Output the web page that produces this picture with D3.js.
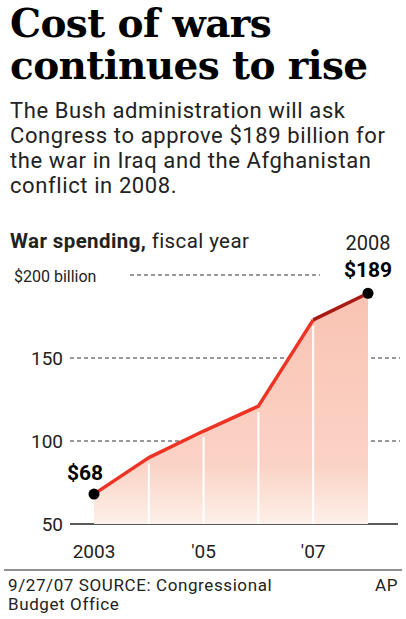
<!DOCTYPE html>
<html><head><meta charset="utf-8">
<script src="https://cdn.jsdelivr.net/npm/d3@7"></script>
<style>body{margin:0;background:#fff}</style>
</head><body>
<svg id="chart" width="406" height="619"></svg>
<script>
const years = [2003, 2004, 2005, 2006, 2007, 2008];
const spending = [68, 90, 106, 121, 173, 189];
const yTicks = [50, 100, 150, 200];
const xLabels = {2003: "2003", 2005: "'05", 2007: "'07"};

const svg = d3.select("#chart");
const x = d3.scaleLinear().domain([2003, 2008]).range([94, 368]);
const y = d3.scaleLinear().domain([50, 200]).range([524, 275]);
const data = years.map((yr, i) => ({yr, v: spending[i]}));

// title + intro
const sans = "Roboto, 'Noto Sans', sans-serif";
svg.selectAll(".title").data(["Cost of wars", "continues to rise"]).enter().append("text")
  .attr("x", 10).attr("y", (d, i) => 37 + i * 42)
  .attr("font-family", "'DejaVu Serif', serif").attr("font-weight", "bold")
  .attr("font-size", 39).attr("letter-spacing", -0.6).text(d => d);
svg.selectAll(".intro").data(["The Bush administration will ask", "Congress to approve $189 billion for", "the war in Iraq and the Afghanistan", "conflict in 2008."]).enter().append("text")
  .attr("x", 10).attr("y", (d, i) => 118 + i * 25)
  .attr("font-family", sans).attr("font-size", 22).attr("letter-spacing", 0.6).attr("fill", "#222").text(d => d);

const h = svg.append("text").attr("x", 10).attr("y", 248).attr("font-family", sans).attr("font-size", 20.5).attr("letter-spacing", 0.4).attr("fill", "#222");
h.append("tspan").attr("font-weight", "bold").text("War spending,");
h.append("tspan").text(" fiscal year");

// gridlines
yTicks.forEach(t => {
  if (t === 50) return;
  svg.append("line").attr("x1", t === 200 ? 130 : 70).attr("x2", t === 200 ? 320 : 400)
    .attr("y1", y(t)).attr("y2", y(t)).attr("stroke", "#333").attr("stroke-dasharray", "4,3");
});
svg.append("line").attr("x1", 70).attr("x2", 398).attr("y1", y(50)).attr("y2", y(50)).attr("stroke", "#222").attr("stroke-width", 1.5);
svg.selectAll(".yl").data(yTicks).enter().append("text")
  .attr("x", d => d === 200 ? 14 : 63).attr("y", d => y(d) + 7)
  .attr("text-anchor", d => d === 200 ? "start" : "end")
  .attr("font-family", sans).attr("font-size", d => d === 200 ? 16 : 19).attr("fill", "#222")
  .text(d => d === 200 ? "$200 billion" : d);

// area
const grad = svg.append("defs").append("linearGradient").attr("id", "g").attr("x1", 0).attr("x2", 0).attr("y1", 0).attr("y2", 1);
grad.append("stop").attr("offset", "0%").attr("stop-color", "#f9c3b3");
grad.append("stop").attr("offset", "75%").attr("stop-color", "#fbd3c6");
grad.append("stop").attr("offset", "100%").attr("stop-color", "#fdf0ea");
svg.append("path").datum(data).attr("fill", "url(#g)")
  .attr("d", d3.area().x(d => x(d.yr)).y0(y(50)).y1(d => y(d.v)));
svg.selectAll(".sep").data(data.slice(1, -1)).enter().append("line")
  .attr("x1", d => x(d.yr)).attr("x2", d => x(d.yr)).attr("y1", d => y(d.v) + 6).attr("y2", y(50))
  .attr("stroke", "#fff").attr("stroke-width", 2);

// line
svg.append("path").datum(data.slice(0, 5)).attr("fill", "none").attr("stroke", "#ee3324").attr("stroke-width", 3.5)
  .attr("stroke-linejoin", "round").attr("d", d3.line().x(d => x(d.yr)).y(d => y(d.v)));
svg.append("path").datum(data.slice(4)).attr("fill", "none").attr("stroke", "#a81a12").attr("stroke-width", 3.5)
  .attr("d", d3.line().x(d => x(d.yr)).y(d => y(d.v)));
svg.selectAll(".dot").data([data[0], data[5]]).enter().append("circle")
  .attr("cx", d => x(d.yr)).attr("cy", d => y(d.v)).attr("r", 5.5).attr("fill", "#000");

svg.append("text").attr("x", x(2003) - 27).attr("y", y(68) - 14).attr("font-family", sans).attr("font-weight", "bold").attr("font-size", 21).text("$" + spending[0]);
svg.append("text").attr("x", x(2008)).attr("y", 250).attr("text-anchor", "middle").attr("font-family", sans).attr("font-size", 20).attr("fill", "#222").text("2008");
svg.append("text").attr("x", x(2008)).attr("y", 277).attr("text-anchor", "middle").attr("font-family", sans).attr("font-weight", "bold").attr("font-size", 21).text("$" + spending[5]);

// x labels
svg.selectAll(".xl").data(Object.keys(xLabels)).enter().append("text")
  .attr("x", d => x(+d)).attr("y", 558).attr("text-anchor", "middle")
  .attr("font-family", sans).attr("font-size", 19).attr("fill", "#222").text(d => xLabels[d]);

svg.append("line").attr("x1", 4).attr("x2", 402).attr("y1", 570).attr("y2", 570).attr("stroke", "#222");
const foot = svg.append("g").attr("font-family", sans).attr("font-size", 17).attr("letter-spacing", 0.6).attr("fill", "#222");
foot.append("text").attr("x", 8).attr("y", 591).text("9/27/07  SOURCE: Congressional");
foot.append("text").attr("x", 8).attr("y", 610).text("Budget Office");
foot.append("text").attr("x", 398).attr("y", 591).attr("text-anchor", "end").text("AP");
</script>
</body></html>
